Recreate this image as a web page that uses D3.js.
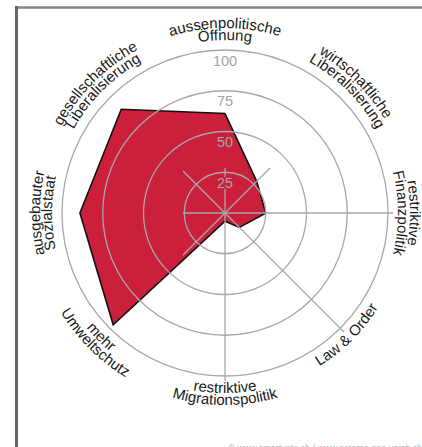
<!DOCTYPE html>
<html>
<head>
<meta charset="utf-8">
<script src="https://cdn.jsdelivr.net/npm/d3@7"></script>
<style>
  html, body { margin: 0; padding: 0; background: #fff; }
  svg { display: block; }
  text { font-family: "Liberation Sans", Arial, sans-serif; }
</style>
</head>
<body>
<svg id="radar" width="422" height="447"></svg>
<script>
(() => {

    // axes, clockwise from the top
    const axis_labels = [
        ["aussenpolitische", "Öffnung"],
        ["wirtschaftliche", "Liberalisierung"],
        ["restriktive", "Finanzpolitik"],
        ["Law & Order"],
        ["restriktive", "Migrationspolitik"],
        ["mehr", "Umweltschutz"],
        ["ausgebauter", "Sozialstaat"],
        ["gesellschaftliche", "Liberalisierung"]
    ];
    const profile_values = [61, 27.5, 25, 12.5, 5, 97, 89, 90];
    const tick_values = [25, 50, 75, 100];
    const credit_text = "© www.smartvote.ch / www.sotomo.geo.unizh.ch";

    // chart parameters
    const cx = 225, cy = 213;
    const outer_radius = 163;
    const spoke_radius = 168;
    const grid_color = "#a6a8ab";
    const fill_color = "#cc1f3b";

    const svg = d3.select("#radar");

    const r_scale = d3.scaleLinear().domain([0, 100]).range([0, outer_radius]);
    const a_scale = d3.scaleLinear().domain([0, axis_labels.length]).range([0, 2 * Math.PI]);

    const pt = (angle, r) => [cx + r * Math.sin(angle), cy - r * Math.cos(angle)];

    // frame
    svg.append("line")
        .attr("x1", 15).attr("y1", 7.5).attr("x2", 422).attr("y2", 7.5)
        .attr("stroke", "#858585").attr("stroke-width", 2.5);
    svg.append("line")
        .attr("x1", 16.5).attr("y1", 6).attr("x2", 16.5).attr("y2", 447)
        .attr("stroke", "#666").attr("stroke-width", 3);

    const g = svg.append("g").attr("transform", `translate(${cx},${cy})`);

    // profile polygon
    g.append("path")
        .datum(profile_values)
        .attr("fill", fill_color)
        .attr("stroke", "#111")
        .attr("stroke-width", 1.6)
        .attr("stroke-linejoin", "miter")
        .attr("d", d3.lineRadial()
            .angle((d, i) => a_scale(i))
            .radius((d) => r_scale(d))
            .curve(d3.curveLinearClosed));

    // mask so the top spoke is broken under the tick labels
    const defs = svg.append("defs");
    const mask = defs.append("mask").attr("id", "spoke-mask").attr("maskUnits", "userSpaceOnUse");
    mask.append("rect").attr("x", -250).attr("y", -250).attr("width", 500).attr("height", 500).attr("fill", "#fff");
    mask.selectAll("rect.gap")
        .data(tick_values)
        .enter()
        .append("rect")
        .attr("class", "gap")
        .attr("x", -13)
        .attr("y", (d) => -(r_scale(d) - 10.5) - 6)
        .attr("width", 26)
        .attr("height", 12)
        .attr("fill", "#000");

    // rings
    g.selectAll(".ring")
        .data(tick_values)
        .enter()
        .append("circle")
        .attr("r", (d) => r_scale(d))
        .attr("fill", "none")
        .attr("stroke", grid_color)
        .attr("stroke-width", 1.3);

    // spokes
    g.append("g")
        .attr("mask", "url(#spoke-mask)")
        .selectAll("line")
        .data(axis_labels)
        .enter()
        .append("line")
        .attr("x1", 0).attr("y1", 0)
        .attr("x2", (d, i) => spoke_radius * Math.sin(a_scale(i)))
        .attr("y2", (d, i) => -spoke_radius * Math.cos(a_scale(i)))
        .attr("stroke", grid_color)
        .attr("stroke-width", 1.3);

    // tick labels
    g.selectAll(".tick-label")
        .data(tick_values)
        .enter()
        .append("text")
        .attr("x", 0)
        .attr("y", (d) => -(r_scale(d) - 10.5))
        .attr("dy", "0.36em")
        .attr("text-anchor", "middle")
        .style("font-size", "14.5px")
        .style("fill", "#a3a5a8")
        .text((d) => d);

    // curved axis labels
    axis_labels.forEach((lines, i) => {
        const angle = a_scale(i);
        const deg = angle * 180 / Math.PI;
        const inward = deg > 100 && deg < 260;
        lines.forEach((line, j) => {
            let r;
            if (inward) {
                r = 180 + j * 12;
            } else {
                r = 185 - j * 12;
            }
            const p0 = pt(angle - Math.PI / 2, r);
            const p1 = pt(angle + Math.PI / 2, r);
            const id = `lab-${i}-${j}`;
            const d = inward
                ? `M${p1[0]},${p1[1]} A${r},${r} 0 0 0 ${p0[0]},${p0[1]}`
                : `M${p0[0]},${p0[1]} A${r},${r} 0 0 1 ${p1[0]},${p1[1]}`;
            defs.append("path").attr("id", id).attr("d", d);
            svg.append("text")
                .style("font-size", "15px")
                .style("fill", "#1a1a1a")
                .append("textPath")
                .attr("href", `#${id}`)
                .attr("startOffset", "50%")
                .attr("text-anchor", "middle")
                .text(line);
        });
    });

    // credit line, cut off by the bottom edge
    svg.append("text")
        .attr("x", 228)
        .attr("y", 450.5)
        .style("font-size", "9px")
        .style("fill", "#b5b5b5")
        .text(credit_text);

})();
</script>
</body>
</html>
